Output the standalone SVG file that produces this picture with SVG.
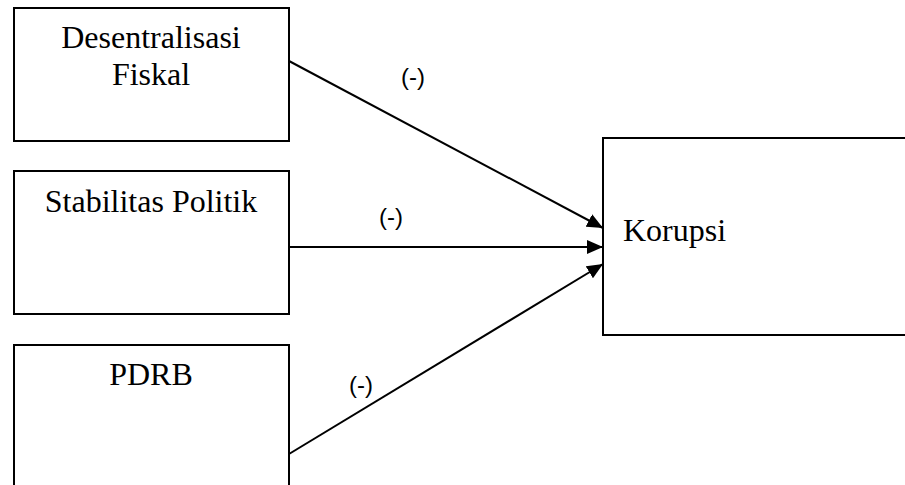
<svg xmlns="http://www.w3.org/2000/svg" width="905" height="485" viewBox="0 0 905 485">
<style>
.box{fill:#fff;stroke:#000;stroke-width:2}
.t{font-family:"Liberation Serif","Times New Roman",serif;font-size:32px;fill:#000}
.lbl{font-family:"Liberation Sans",Arial,sans-serif;font-size:24px;fill:#000;text-anchor:middle}
.c{fill:none;stroke:#000;stroke-width:2}
</style>
<defs>
<marker id="ah" viewBox="0 0 16 14" refX="16" refY="7" markerWidth="16" markerHeight="14" markerUnits="userSpaceOnUse" orient="auto">
<path d="M0,0 L16,7 L0,14 Z" fill="#000"/>
</marker>
</defs>
<rect width="905" height="485" fill="#fff"/>
<g id="node-desentralisasi">
<rect class="box" x="14" y="8" width="275" height="133"/>
<text class="t" x="151" y="48" text-anchor="middle">Desentralisasi</text>
<text class="t" x="151" y="85" text-anchor="middle">Fiskal</text>
</g>
<g id="node-stabilitas">
<rect class="box" x="14" y="171" width="275" height="143"/>
<text class="t" x="151" y="212" text-anchor="middle">Stabilitas Politik</text>
</g>
<g id="node-pdrb">
<rect class="box" x="14" y="345" width="275" height="150"/>
<text class="t" x="151" y="385" text-anchor="middle">PDRB</text>
</g>
<g id="node-korupsi">
<rect class="box" x="603" y="138" width="310" height="197"/>
<text class="t" x="623" y="241">Korupsi</text>
</g>
<g id="connectors">
<path class="c" d="M289,61 L603,228" marker-end="url(#ah)"/>
<path class="c" d="M289,247 L603,247" marker-end="url(#ah)"/>
<path class="c" d="M289,454 L603,264" marker-end="url(#ah)"/>
<text class="lbl" x="413" y="85">(-)</text>
<text class="lbl" x="391" y="225">(-)</text>
<text class="lbl" x="361" y="393">(-)</text>
</g>
</svg>
